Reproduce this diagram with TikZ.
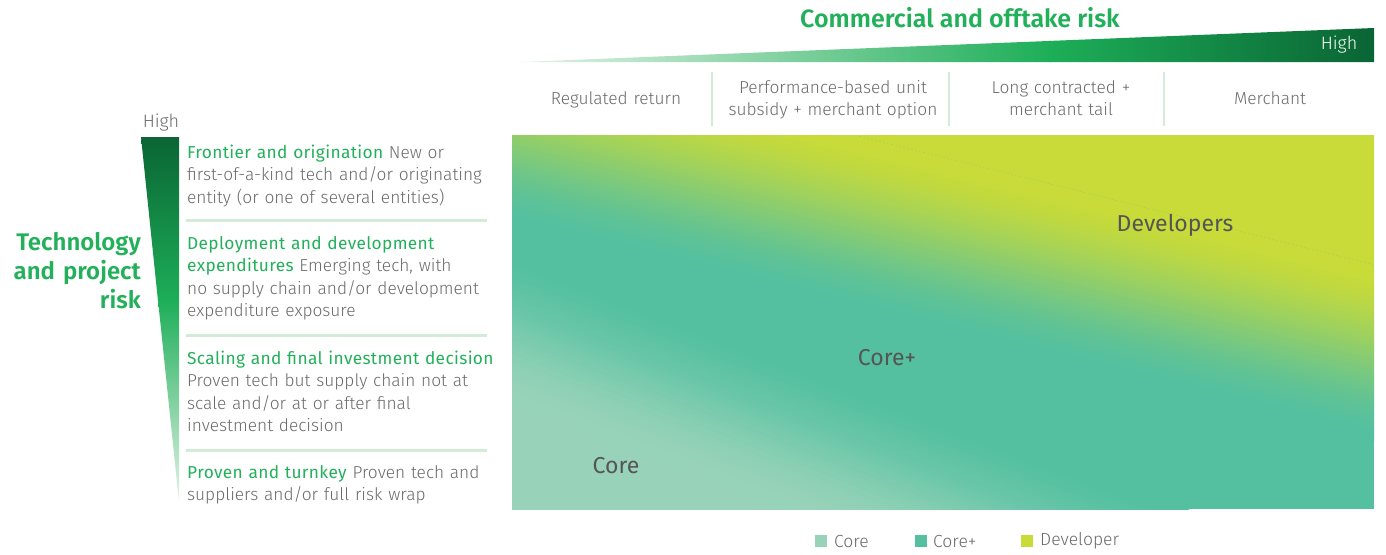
\documentclass[tikz,border=0pt]{standalone}
\usepackage{fontspec}
\setmainfont{Fira Sans}[UprightFont={* Light}, BoldFont={* SemiBold}]
\newfontfamily\headfont{Fira Sans}[LetterSpace=2]
\newfontfamily\regfont{Fira Sans}
\definecolor{devcol}{HTML}{C9DB38}
\definecolor{tealcol}{HTML}{54C0A0}
\definecolor{lightcol}{HTML}{98D3B9}
\definecolor{bcggreen}{HTML}{22B05A}
\definecolor{midgreen}{HTML}{1DAE58}
\definecolor{darkgreen}{HTML}{0A6534}
\definecolor{palegreen}{HTML}{E4F3E8}
\definecolor{txtgrey}{HTML}{6A6A6A}
\definecolor{lblgrey}{HTML}{555555}
\definecolor{rulegreen}{HTML}{D3ECD9}
\newcommand{\grhead}[1]{{\headfont\color{bcggreen}#1}}
\tikzset{
  body/.style={font=\fontsize{17.3}{22.5}\selectfont, text=txtgrey, inner sep=0pt, align=left, text width=320pt, anchor=base west},
  colhead/.style={font=\fontsize{17.3}{22.5}\selectfont, text=txtgrey, inner sep=0pt, align=center, text width=230pt, anchor=base},
  bigtitle/.style={font=\fontsize{25}{29}\selectfont\bfseries, text=bcggreen, inner sep=0pt},
  zonelbl/.style={font=\regfont\fontsize{23}{26}\selectfont, text=lblgrey, inner sep=0pt},
  legsq/.style={minimum size=12pt, inner sep=0pt, draw=none},
  legtxt/.style={font=\fontsize{17.5}{20}\selectfont, text=txtgrey, inner sep=0pt, anchor=west},
  divline/.style={draw=rulegreen, line width=3pt},
  sepline/.style={draw=rulegreen, line width=2pt}
}
\begin{document}
\begin{tikzpicture}[x=1pt,y=-1pt]
\useasboundingbox (0,0) rectangle (1386,554);

% ---- main gradient field (built from thin overlapping bands, smoothstep profile) ----
\begin{scope}
  \clip (512,135) rectangle (1374,509);
  \fill[tealcol] (512,135) rectangle (1374,509);
  \begin{scope}[shift={(512,330)},rotate=-21]
    \fill[lightcol] (-600,69) -- (1600,69) -- (1600,500) -- (-600,500) -- cycle;
    \foreach \i in {0,...,71} {
      \pgfmathsetmacro{\ua}{-75+\i*2}
      \pgfmathsetmacro{\ub}{\ua+2.8}
      \pgfmathsetmacro{\tv}{(\i+0.5)/72}
      \pgfmathtruncatemacro{\pc}{100*(3*\tv*\tv-2*\tv*\tv*\tv)}
      \fill[lightcol!\pc!tealcol] (-600,\ua) -- (1600,\ua) -- (1600,\ub) -- (-600,\ub) -- cycle;
    }
  \end{scope}
  \begin{scope}[shift={(943,250)},rotate=-14]
    \fill[devcol] (-900,-400) -- (900,-400) -- (900,-90) -- (-900,-90) -- cycle;
    \foreach \i in {0,...,84} {
      \pgfmathsetmacro{\ua}{-90+\i*2}
      \pgfmathsetmacro{\ub}{\ua+2.8}
      \pgfmathsetmacro{\tv}{(\i+0.5)/85}
      \pgfmathtruncatemacro{\pc}{100*(3*\tv*\tv-2*\tv*\tv*\tv)}
      \fill[tealcol!\pc!devcol] (-900,\ua) -- (900,\ua) -- (900,\ub) -- (-900,\ub) -- cycle;
    }
  \end{scope}
\end{scope}

\node[zonelbl] (dev) at (1175,225) {Developers};
\node[zonelbl] (corep) at (887,358) {Core+};
\node[zonelbl] (core) at (616,466) {Core};

% ---- top wedge ----
\shade[left color=palegreen, right color=midgreen] (520,62) -- (1051,40.9) -- (1051,62) -- cycle;
\shade[left color=midgreen, right color=darkgreen] (1050,40.9) -- (1374,28) -- (1374,62) -- (1050,62) -- cycle;
\node[font=\fontsize{18}{20}\selectfont, text=white, inner sep=0pt] (hightop) at (1339,45) {High};
\node[bigtitle] (ctitle) at (960,18) {Commercial and offtake risk};

% ---- column headers ----
\node[colhead] (h1) at (616,104) {Regulated return};
\node[colhead] (h2) at (833,93) {Performance-based unit\\subsidy + merchant option};
\node[colhead] (h3) at (1061,93) {Long contracted +\\merchant tail};
\node[colhead] (h4) at (1270,104) {Merchant};
\draw[sepline] (712,72) -- (712,126);
\draw[sepline] (949,72) -- (949,126);
\draw[sepline] (1164,72) -- (1164,126);

% ---- left wedge ----
\shade[top color=darkgreen, bottom color=midgreen] (141,137) -- (179,137) -- (179,301) -- (158,301) -- cycle;
\shade[top color=midgreen, bottom color=palegreen] (158,300) -- (179,300) -- (179,502) -- cycle;
\node[font=\fontsize{18}{20}\selectfont, text=txtgrey, inner sep=0pt] (highleft) at (161,123) {High};
\node[bigtitle, font=\fontsize{24}{29}\selectfont\bfseries, align=right, text width=140pt, anchor=base east] (ttitle) at (141,250) {Technology\\and project\\risk};

% ---- row descriptions ----
\node[body] (r1) at (187,158) {\grhead{Frontier and origination} New or\\first-of-a-kind tech and/or originating\\entity (or one of several entities)};
\draw[divline] (186,220) -- (487,220);
\node[body] (r2) at (187,249) {\grhead{Deployment and development}\\\grhead{expenditures} Emerging tech, with\\no supply chain and/or development\\expenditure exposure};
\draw[divline] (186,335) -- (487,335);
\node[body] (r3) at (187,364) {\grhead{Scaling and final investment decision}\\Proven tech but supply chain not at\\scale and/or at or after final\\investment decision};
\draw[divline] (186,450) -- (487,450);
\node[body] (r4) at (187,478) {\grhead{Proven and turnkey} Proven tech and\\suppliers and/or full risk wrap};

% ---- legend ----
\node[legsq, fill=lightcol] (lsq1) at (821,541) {};
\node[legtxt] (ltx1) at (834,541) {Core};
\node[legsq, fill=tealcol] (lsq2) at (921,541) {};
\node[legtxt] (ltx2) at (933,541) {Core+};
\node[legsq, fill=devcol] (lsq3) at (1027,541) {};
\node[legtxt] (ltx3) at (1040,541) {Developer};
\end{tikzpicture}
\end{document}
